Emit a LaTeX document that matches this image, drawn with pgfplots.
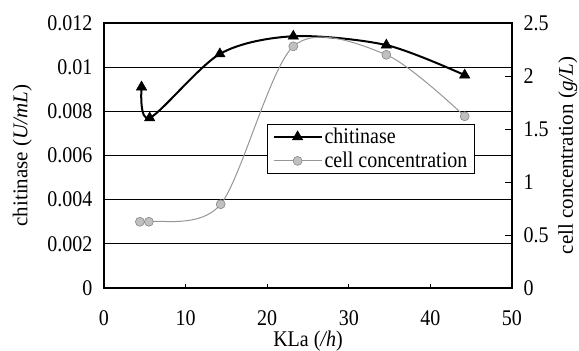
\documentclass[border=0pt]{standalone}
\usepackage{graphicx}
\usepackage{pgfplots}
\pgfplotsset{compat=1.18}
\usepackage{fontspec}
\setmainfont{Liberation Serif}
\definecolor{cellgray}{RGB}{150,150,150}
\newcommand{\tall}[1]{\scalebox{1}[1.12]{#1}}
\begin{document}
\begin{tikzpicture}[font=\fontsize{20bp}{24bp}\selectfont]
\path[use as bounding box] (-104bp,-63bp) rectangle (475bp,288bp);
\begin{axis}[
  at={(0,0)}, anchor=south west,
  scale only axis, width=408bp, height=265bp,
  xmin=0, xmax=50, ymin=0, ymax=0.012,
  xtick={0,10,20,30,40,50},
  ytick={0,0.002,0.004,0.006,0.008,0.01,0.012},
  xtick pos=bottom, ytick pos=left,
  tick align=inside, major tick length=4bp,
  tick style={black, line width=0.8pt},
  axis line style={black, line width=1.1pt},
  ymajorgrids, grid style={black, line width=0.8pt},
  scaled y ticks=false,
  /pgf/number format/assume math mode=true,
  yticklabel={\tall{\pgfmathprintnumber[fixed,precision=3]{\tick}}},
  xticklabel={\tall{\pgfmathprintnumber{\tick}}},
  yticklabel style={xshift=-8bp},
  xticklabel style={yshift=-19bp},
  xlabel={\tall{KLa (\textit{/h})}},
  ylabel={chitinase (\textit{U/mL})},
  xlabel style={at={(axis description cs:0.5,-0.2)}, anchor=center},
  ylabel style={at={(axis description cs:-0.2,0.5)}, anchor=center, rotate=0, font=\fontsize{21bp}{25bp}\selectfont},
]
\addplot[black, line width=2bp, smooth, mark=triangle*, mark size=6bp, mark options={solid, fill=black, line width=0.5bp}]
  coordinates {(4.6,0.0091) (5.6,0.0077) (14.2,0.0106) (23.2,0.0114) (34.6,0.0110) (44.2,0.00964)};
\end{axis}
\begin{axis}[
  at={(0,0)}, anchor=south west,
  scale only axis, width=408bp, height=265bp,
  xmin=0, xmax=50, ymin=0, ymax=2.5,
  axis x line=none,
  axis y line*=right,
  ytick={0,0.5,1,1.5,2,2.5},
  tick align=inside, major tick length=7bp,
  tick style={black, line width=0.8pt},
  axis line style={black, line width=1.1pt},
  /pgf/number format/assume math mode=true,
  yticklabel={\tall{\pgfmathprintnumber{\tick}}},
  yticklabel style={xshift=8bp},
  ylabel={cell concentration (\textit{g/L})},
  ylabel style={at={(axis description cs:1.137,0.5)}, anchor=center, rotate=0, font=\fontsize{21bp}{25bp}\selectfont},
  legend style={at={(axis description cs:0.4,0.619)}, anchor=north west,
    draw=black, line width=0.8pt, fill=white, inner xsep=5bp, inner ysep=2bp,
    font=\fontsize{20bp}{24bp}\selectfont, row sep=3bp,
    cells={anchor=west}},
  legend image code/.code={%
    \draw[mark repeat=2, mark phase=2, #1] plot coordinates {(0bp,0bp) (24bp,0bp) (48bp,0bp)};},
]
\addlegendimage{black, line width=2bp, mark=triangle*, mark size=6bp, mark options={solid, fill=black, line width=0.5bp}}
\addlegendentry{\tall{chitinase}}
\addplot[cellgray, line width=1bp, smooth, mark=*, mark size=4.5bp, mark options={fill=cellgray!60, draw=cellgray!90!black, line width=0.6bp}]
  coordinates {(4.4,0.625) (5.5,0.625) (14.3,0.79) (23.2,2.28) (34.6,2.2) (44.2,1.62)};
\addlegendentry{\tall{cell concentration}}
\end{axis}
\end{tikzpicture}
\end{document}
